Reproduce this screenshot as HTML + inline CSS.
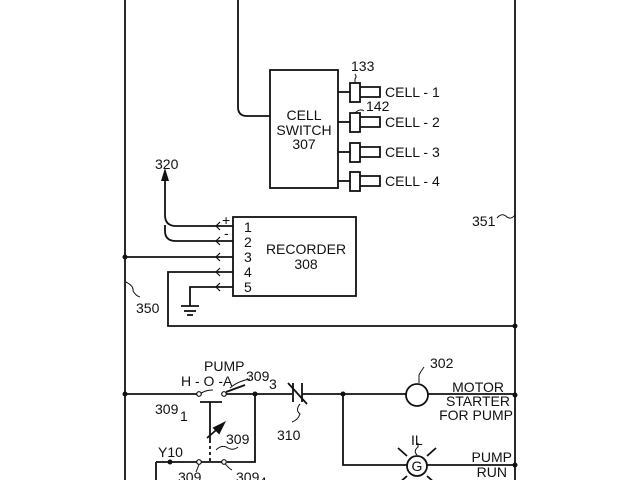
<!DOCTYPE html>
<html><head><style>
html,body{margin:0;padding:0;background:#fff;}
svg{display:block;}
text{font-family:"Liberation Sans",Arial,sans-serif;font-size:14px;fill:#111;}
</style></head><body>
<svg width="640" height="480" viewBox="0 0 640 480" xmlns="http://www.w3.org/2000/svg">
<g stroke="#111" stroke-width="1.8" fill="none">
<line x1="125" y1="0" x2="125" y2="480"/>
<line x1="515" y1="0" x2="515" y2="480"/>
<path d="M238 0 V107 Q238 116 247 116 H270"/>
<rect x="270" y="70" width="68" height="118"/>
<g id="c">
<line x1="338" y1="92" x2="350" y2="92"/>
<rect x="350" y="83" width="10" height="19"/>
<path d="M360 87 H380 V97 H360"/>
</g>
<use href="#c" y="30"/><use href="#c" y="60"/><use href="#c" y="89"/>
<path d="M355 83 V79 Q357 77 355 74" stroke-width="1"/>
<path d="M355 113 Q360 108 364 111" stroke-width="1"/>
<rect x="233" y="217" width="123" height="79"/>
<path d="M165 180 V215 Q165 226 176 226 H233"/>
<path d="M165 225 V231 Q165 241 176 241 H233"/>
<line x1="125" y1="257" x2="233" y2="257"/>
<path d="M233 272 H168 V326 H515"/>
<path d="M233 287 H190 V306"/>
<line x1="181" y1="306" x2="199" y2="306"/>
<line x1="184" y1="311" x2="196" y2="311"/>
<line x1="187" y1="315" x2="193" y2="315"/>
<path d="M220 222 L216 226 L220 230 M220 237 L216 241 L220 245 M220 253 L216 257 L220 261 M220 268 L216 272 L220 276 M220 283 L216 287 L220 291" stroke-width="1.2"/>
<path d="M126 282 Q134 286 133 291 Q136 296 140 297" stroke-width="1"/>
<path d="M497 218 Q502 212 507 217 Q511 220 515 215" stroke-width="1"/>
<line x1="125" y1="394" x2="197" y2="394"/>
<path d="M226 392 L245 385" />
<line x1="226" y1="394" x2="292" y2="394"/>
<line x1="302" y1="394" x2="406" y2="394"/>
<line x1="428" y1="394" x2="515" y2="394"/>
<line x1="293" y1="383" x2="293" y2="402"/>
<line x1="302" y1="383" x2="302" y2="402"/>
<line x1="288" y1="383" x2="307" y2="404"/>
<path d="M300 404 Q295 410 300 414 Q298 420 292 422" stroke-width="1"/>
<line x1="200" y1="402" x2="222" y2="402"/>
<line x1="210" y1="402" x2="210" y2="440"/>
<line x1="210" y1="440" x2="210" y2="462" stroke-dasharray="3,3"/>
<line x1="207" y1="438" x2="222" y2="425"/>
<path d="M224 423 L214 428 L219 433 Z" fill="#111"/>
<path d="M216 450 Q222 444 228 448 Q233 451 238 447" stroke-width="1"/>
<path d="M255 394 V462 H227"/>
<line x1="156" y1="462" x2="197" y2="462"/>
<line x1="156" y1="462" x2="156" y2="480"/>
<line x1="200" y1="462" x2="222" y2="462"/>
<path d="M343 394 V465 H407"/>
<line x1="426" y1="465" x2="515" y2="465"/>
<circle cx="417" cy="395" r="11"/>
<circle cx="417" cy="466" r="10"/>
<path d="M407 456 L398 448 M427 456 L436 448 M407 476 L398 484 M427 476 L436 484"/>
<path d="M419 383 V375 Q421 371 424 367" stroke-width="1"/>
<path d="M417 455 Q413 451 418 447 V443" stroke-width="1"/>
<path d="M200 394 Q205 390 213 390" stroke-width="1"/>
<path d="M230 388 Q238 381 250 379" stroke-width="1"/>
<path d="M200 462 Q198 467 196 472" stroke-width="1"/>
<path d="M224 462 Q228 468 232 470" stroke-width="1"/>
</g>
<g fill="#fff" stroke="#111" stroke-width="1.2">
<circle cx="199" cy="394" r="2.3"/><circle cx="224" cy="394" r="2.3"/>
<circle cx="199" cy="462" r="2.3"/><circle cx="224" cy="462" r="2.3"/>
</g>
<g fill="#111">
<circle cx="125" cy="257" r="2.5"/><circle cx="515" cy="326" r="2.5"/>
<circle cx="125" cy="394" r="2.5"/><circle cx="255" cy="394" r="2.5"/>
<circle cx="343" cy="394" r="2.5"/><circle cx="515" cy="395" r="2.5"/>
<circle cx="515" cy="465" r="2.5"/><circle cx="170" cy="462" r="2.5"/>
<path d="M165 168 L161 181 L169 181 Z"/>
</g>
<text x="351" y="71" font-size="13">133</text>
<text x="366" y="111" font-size="13">142</text>
<text x="385" y="97">CELL - 1</text>
<text x="385" y="127">CELL - 2</text>
<text x="385" y="157">CELL - 3</text>
<text x="385" y="186">CELL - 4</text>
<text x="304" y="120" text-anchor="middle">CELL</text>
<text x="304" y="135" text-anchor="middle">SWITCH</text>
<text x="304" y="149" text-anchor="middle">307</text>
<text x="155" y="169" font-size="13">320</text>
<text x="222" y="225" font-size="11">+</text>
<text x="224" y="238" font-size="11">-</text>
<text x="244" y="232">1</text><text x="244" y="247">2</text><text x="244" y="262">3</text><text x="244" y="277">4</text><text x="244" y="292">5</text>
<text x="306" y="254" text-anchor="middle">RECORDER</text>
<text x="306" y="269" text-anchor="middle">308</text>
<text x="136" y="313" font-size="13">350</text>
<text x="472" y="226" font-size="13">351</text>
<text x="204" y="371">PUMP</text>
<text x="181" y="386">H - O -A</text>
<text x="246" y="381">309</text><text x="269" y="389" font-size="12">3</text>
<text x="155" y="414">309</text><text x="180" y="421" font-size="12">1</text>
<text x="277" y="440">310</text>
<text x="226" y="444">309</text>
<text x="158" y="457">Y10</text>
<text x="178" y="482">309</text>
<text x="236" y="482">309</text><text x="259" y="487" font-size="12">4</text>
<text x="430" y="368">302</text>
<text x="504" y="392" text-anchor="end">MOTOR</text>
<text x="510" y="406" text-anchor="end">STARTER</text>
<text x="513" y="420" text-anchor="end">FOR PUMP</text>
<text x="411" y="445">IL</text>
<text x="417" y="471" text-anchor="middle" font-size="12">G</text>
<text x="512" y="462" text-anchor="end">PUMP</text>
<text x="507" y="477" text-anchor="end">RUN</text>
</svg>
</body></html>
